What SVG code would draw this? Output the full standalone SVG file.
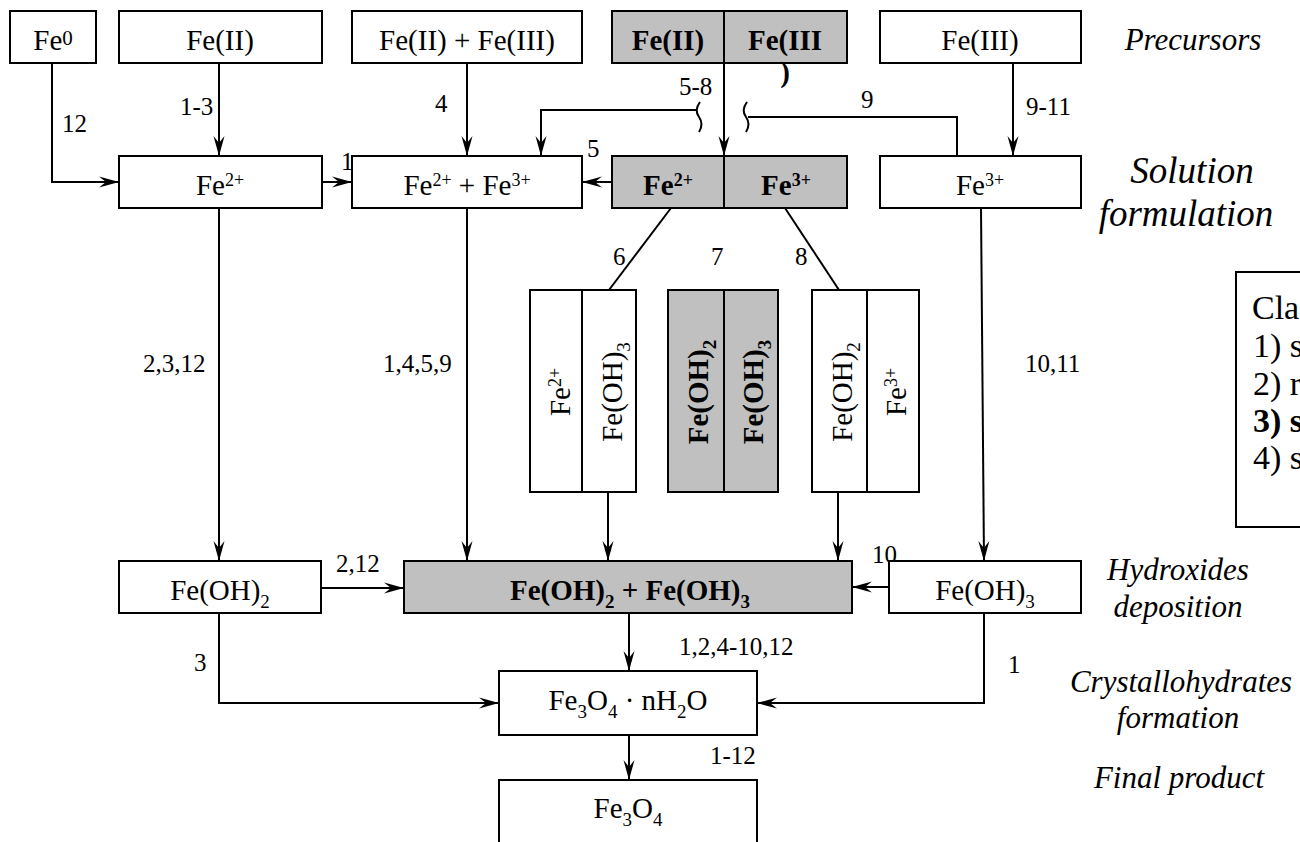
<svg xmlns="http://www.w3.org/2000/svg" width="1300" height="842" viewBox="0 0 1300 842">
<defs>
<marker id="arr" markerUnits="userSpaceOnUse" markerWidth="24" markerHeight="14" viewBox="-22 -7 24 14" refX="0" refY="0" orient="auto">
<path d="M0,0 L-20,-5.5 L-13,0 L-20,5.5 Z" fill="#000"/>
</marker>
<style>
.box{fill:#fff;stroke:#000;stroke-width:2}
.gbox{fill:#c0c0c0;stroke:#000;stroke-width:2}
.ln{fill:none;stroke:#000;stroke-width:2}
.a{marker-end:url(#arr)}
text{font-family:"Liberation Serif","Times New Roman",serif;fill:#000}
.t{font-size:29px;text-anchor:middle}
.b{font-weight:bold}
.lb{font-size:25px}
.it{font-style:italic;font-size:31px;text-anchor:middle}
.it2{font-style:italic;font-size:37px;text-anchor:middle}
.lg{font-size:34px}
</style>
</defs>
<rect width="1300" height="842" fill="#fff"/>

<g id="labels">
<text class="lb" x="62" y="132">12</text>
<text class="lb" x="180" y="115">1-3</text>
<text class="lb" x="435" y="112">4</text>
<text class="lb" x="341" y="170">1</text>
<text class="lb" x="679" y="95">5-8</text>
<text class="lb" x="587" y="157">5</text>
<text class="lb" x="861" y="108">9</text>
<text class="lb" x="1026" y="115">9-11</text>
<text class="lb" x="143" y="372">2,3,12</text>
<text class="lb" x="383" y="372">1,4,5,9</text>
<text class="lb" x="613" y="265">6</text>
<text class="lb" x="711" y="265">7</text>
<text class="lb" x="795" y="265">8</text>
<text class="lb" x="1025" y="372">10,11</text>
<text class="lb" x="336" y="572">2,12</text>
<text class="lb" x="872" y="563">10</text>
<text class="lb" x="679" y="655">1,2,4-10,12</text>
<text class="lb" x="194" y="671">3</text>
<text class="lb" x="1008" y="673">1</text>
<text class="lb" x="710" y="764">1-12</text>
</g>

<g id="connectors">
<path class="ln a" d="M52,63 V182 H119"/>
<path class="ln a" d="M219,63 V156"/>
<path class="ln a" d="M467,63 V156"/>
<path class="ln a" d="M724,63 V156"/>
<path class="ln a" d="M697,110 H541 V156"/>
<path class="ln" d="M700,102 Q694,110 699,117 Q704,124 699,132"/>
<path class="ln" d="M747,102 Q741,110 746,117 Q751,124 746,132"/>
<path class="ln" d="M748,117 H957 V156"/>
<path class="ln a" d="M1013,63 V156"/>
<path class="ln a" d="M322,182 H352"/>
<path class="ln a" d="M612,182 H582"/>
<path class="ln a" d="M219,208 V561"/>
<path class="ln a" d="M467,208 V561"/>
<path class="ln" d="M671,208 L609,290"/>
<path class="ln" d="M785,208 L839,290"/>
<path class="ln a" d="M981,208 L984,561"/>
<path class="ln a" d="M608,492 V561"/>
<path class="ln a" d="M838,492 V561"/>
<path class="ln a" d="M321,588 H404"/>
<path class="ln a" d="M889,587 H852"/>
<path class="ln a" d="M629,613 V671"/>
<path class="ln a" d="M219,613 V703 H499"/>
<path class="ln a" d="M984,613 V703 H757"/>
<path class="ln a" d="M629,735 V780"/>
</g>

<g id="n-fe0"><rect class="box" x="10" y="11" width="86" height="52"/><text class="t" x="53" y="50">Fe<tspan font-size="21" dy="-5">0</tspan></text></g>
<g id="n-feII"><rect class="box" x="119" y="11" width="203" height="52"/><text class="t" x="220" y="50">Fe(II)</text></g>
<g id="n-feII-feIII"><rect class="box" x="352" y="11" width="230" height="52"/><text class="t" x="467" y="50">Fe(II) + Fe(III)</text></g>
<g id="n-gray-top"><rect class="gbox" x="612" y="11" width="235" height="52"/><line class="ln" x1="724" y1="11" x2="724" y2="63"/><text class="t b" x="668" y="50">Fe(II)</text><text class="t b" x="785" y="50">Fe(III</text><text class="t b" x="785" y="82">)</text></g>
<g id="n-feIII"><rect class="box" x="880" y="11" width="201" height="52"/><text class="t" x="980" y="50">Fe(III)</text></g>

<g id="n-fe2"><rect class="box" x="119" y="156" width="203" height="52"/><text class="t" x="220" y="195">Fe<tspan font-size="18" dy="-9">2+</tspan></text></g>
<g id="n-fe2-fe3"><rect class="box" x="352" y="156" width="230" height="52"/><text class="t" x="467" y="195">Fe<tspan font-size="18" dy="-9">2+</tspan><tspan dy="9"> + Fe</tspan><tspan font-size="18" dy="-9">3+</tspan></text></g>
<g id="n-gray-mid"><rect class="gbox" x="612" y="156" width="235" height="52"/><line class="ln" x1="724" y1="156" x2="724" y2="208"/><text class="t b" x="668" y="195">Fe<tspan font-size="18" dy="-9">2+</tspan></text><text class="t b" x="786" y="195">Fe<tspan font-size="18" dy="-9">3+</tspan></text></g>
<g id="n-fe3"><rect class="box" x="880" y="156" width="201" height="52"/><text class="t" x="980" y="195">Fe<tspan font-size="18" dy="-9">3+</tspan></text></g>

<g id="n-v6"><rect class="box" x="530" y="290" width="106" height="202"/><line class="ln" x1="582" y1="290" x2="582" y2="492"/>
<text class="t" transform="translate(570,392) rotate(-90)">Fe<tspan font-size="18" dy="-9">2+</tspan></text>
<text class="t" transform="translate(622,392) rotate(-90)">Fe(OH)<tspan font-size="19" dy="8">3</tspan></text></g>
<g id="n-v7"><rect class="gbox" x="668" y="290" width="110" height="202"/><line class="ln" x1="724" y1="290" x2="724" y2="492"/>
<text class="t b" transform="translate(708,392) rotate(-90)">Fe(OH)<tspan font-size="19" dy="8">2</tspan></text>
<text class="t b" transform="translate(763,392) rotate(-90)">Fe(OH)<tspan font-size="19" dy="8">3</tspan></text></g>
<g id="n-v8"><rect class="box" x="812" y="290" width="107" height="202"/><line class="ln" x1="867" y1="290" x2="867" y2="492"/>
<text class="t" transform="translate(852,392) rotate(-90)">Fe(OH)<tspan font-size="19" dy="8">2</tspan></text>
<text class="t" transform="translate(906,392) rotate(-90)">Fe<tspan font-size="18" dy="-9">3+</tspan></text></g>

<g id="n-feoh2"><rect class="box" x="119" y="561" width="202" height="52"/><text class="t" x="220" y="600">Fe(OH)<tspan font-size="19" dy="8">2</tspan></text></g>
<g id="n-mix"><rect class="gbox" x="404" y="561" width="448" height="52"/><text class="t b" x="630" y="600">Fe(OH)<tspan font-size="19" dy="8">2</tspan><tspan dy="-8"> + Fe(OH)</tspan><tspan font-size="19" dy="8">3</tspan></text></g>
<g id="n-feoh3"><rect class="box" x="889" y="561" width="192" height="52"/><text class="t" x="985" y="600">Fe(OH)<tspan font-size="19" dy="8">3</tspan></text></g>
<g id="n-hydrate"><rect class="box" x="499" y="671" width="258" height="64"/><text class="t" x="628" y="710">Fe<tspan font-size="19" dy="8">3</tspan><tspan dy="-8">O</tspan><tspan font-size="19" dy="8">4</tspan><tspan dy="-8"> · nH</tspan><tspan font-size="19" dy="8">2</tspan><tspan dy="-8">O</tspan></text></g>
<g id="n-fe3o4"><rect class="box" x="499" y="780" width="258" height="80"/><text class="t" x="628" y="818">Fe<tspan font-size="19" dy="8">3</tspan><tspan dy="-8">O</tspan><tspan font-size="19" dy="8">4</tspan></text></g>

<g id="stages">
<text class="it" x="1193" y="50">Precursors</text>
<text class="it2" x="1192" y="183">Solution</text>
<text class="it2" x="1186" y="226">formulation</text>
<text class="it" x="1178" y="580">Hydroxides</text>
<text class="it" x="1178" y="617">deposition</text>
<text class="it" x="1181" y="692">Crystallohydrates</text>
<text class="it" x="1178" y="728">formation</text>
<text class="it" x="1179" y="788">Final product</text>
</g>

<g id="legend">
<rect class="box" x="1236" y="272" width="120" height="255"/>
<text class="lg" x="1252" y="319">Cla</text>
<text class="lg" x="1253" y="357">1) s</text>
<text class="lg" x="1253" y="395">2) r</text>
<text class="lg b" x="1253" y="432">3) s</text>
<text class="lg" x="1253" y="469">4) s</text>
</g>
</svg>
